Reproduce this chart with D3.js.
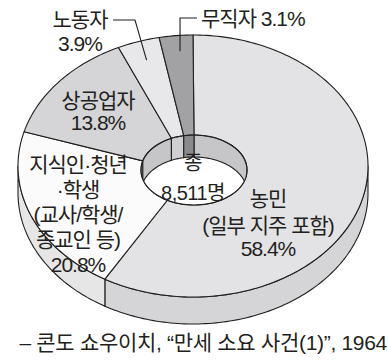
<!DOCTYPE html>
<html>
<head>
<meta charset="utf-8">
<script src="https://cdn.jsdelivr.net/npm/d3@7"></script>
<style>
  html, body { margin: 0; padding: 0; background: #fff; }
  text { font-family: "Liberation Sans", "Noto Sans CJK KR", sans-serif; fill: #231f20; }
</style>
</head>
<body>
<div id="chart"></div>
<script>
// data
const categories = ["농민", "지식인·청년·학생", "상공업자", "노동자", "무직자"]
const shares = [58.4, 20.8, 13.8, 3.9, 3.1]
const labelLines = [
    ["농민", "(일부 지주 포함)", "58.4%"],
    ["지식인·청년", "·학생", "(교사/학생/", "종교인 등)", "20.8%"],
    ["상공업자", "13.8%"],
    ["노동자", "3.9%"],
    ["무직자 3.1%"]
]
const centerLines = ["종", "8,511명"]
const source = "– 콘도 쇼우이치, “만세 소요 사건(1)”, 1964"

// colours per slice: top face, outer wall, inner wall
const topColor = ["#e3e3e5", "#fbfbfb", "#d5d5d7", "#e8e8ea", "#a2a2a4"]
const sideColor = ["#d5d5d7", "#e6e6e6", "#cfcfd1", "#dcdcdc", "#9a9a9c"]
const innerColor = ["#c6c6c8", "#dedede", "#c6c6c8", "#cfcfd1", "#8a8a8c"]

const width = 388, height = 362
const outer = {cx: 193, cy: 166, rx: 175, ry: 131, depth: 27}
const inner = {cx: 194, cy: 170, rx: 53, ry: 35, depth: 22}

const svg = d3.select("#chart")
    .append("svg")
    .attr("width", width)
    .attr("height", height)

const pie = d3.pie().sort(null).value(d => d)
const arcs = pie(shares)

// point on an ellipse for a pie angle (0 = top, clockwise)
function pt(e, a, dy) {
    return [e.cx + e.rx * Math.sin(a), e.cy - e.ry * Math.cos(a) + (dy || 0)]
}
function arcPts(e, a0, a1, dy) {
    const n = Math.max(2, Math.ceil(Math.abs(a1 - a0) / 0.02))
    return d3.range(n + 1).map(i => pt(e, a0 + (a1 - a0) * i / n, dy))
}
const line = d3.line()

function overlap(a0, a1, b0, b1) {
    const s = Math.max(a0, b0), t = Math.min(a1, b1)
    return s < t ? [s, t] : null
}

// outer wall (front half)
const sideG = svg.append("g")
arcs.forEach((d, i) => {
    const o = overlap(d.startAngle, d.endAngle, Math.PI / 2, 3 * Math.PI / 2)
    if (!o) return
    const pts = arcPts(outer, o[0], o[1], 0).concat(arcPts(outer, o[1], o[0], outer.depth))
    sideG.append("path")
        .attr("d", line(pts) + "Z")
        .attr("fill", sideColor[i])
        .attr("stroke", "#1f1f1f")
        .attr("stroke-width", 1.1)
        .attr("stroke-linejoin", "round")
})

// top faces
svg.append("g")
    .selectAll("path")
    .data(arcs)
    .enter()
    .append("path")
    .attr("d", d => line(arcPts(outer, d.startAngle, d.endAngle, 0)
        .concat(arcPts(inner, d.endAngle, d.startAngle, 0))) + "Z")
    .attr("fill", (d, i) => topColor[i])
    .attr("stroke", "#1f1f1f")
    .attr("stroke-width", 1.1)
    .attr("stroke-linejoin", "round")

// hole + inner wall (back half)
svg.append("clipPath").attr("id", "hole")
    .append("ellipse")
    .attr("cx", inner.cx).attr("cy", inner.cy)
    .attr("rx", inner.rx).attr("ry", inner.ry)

const holeG = svg.append("g").attr("clip-path", "url(#hole)")
holeG.append("ellipse")
    .attr("cx", inner.cx).attr("cy", inner.cy)
    .attr("rx", inner.rx).attr("ry", inner.ry)
    .attr("fill", "#fff")

arcs.forEach((d, i) => {
    [[0, Math.PI / 2], [3 * Math.PI / 2, 2 * Math.PI]].forEach(r => {
        const o = overlap(d.startAngle, d.endAngle, r[0], r[1])
        if (!o) return
        const pts = arcPts(inner, o[0], o[1], 0).concat(arcPts(inner, o[1], o[0], inner.depth))
        holeG.append("path")
            .attr("d", line(pts) + "Z")
            .attr("fill", innerColor[i])
            .attr("stroke", "#1f1f1f")
            .attr("stroke-width", 1.1)
    })
})

svg.append("ellipse")
    .attr("cx", inner.cx).attr("cy", inner.cy)
    .attr("rx", inner.rx).attr("ry", inner.ry)
    .attr("fill", "none")
    .attr("stroke", "#1f1f1f")
    .attr("stroke-width", 1.1)

// leader lines for the two thin slices
function midPt(d, f) {
    const a = (d.startAngle + d.endAngle) / 2
    return [outer.cx + outer.rx * f * Math.sin(a), outer.cy - outer.ry * f * Math.cos(a)]
}
const p3 = midPt(arcs[3], 0.85)
const p4 = midPt(arcs[4], 0.88)
svg.append("path")
    .attr("d", line([[113, 20], [135, 20], p3]))
    .attr("fill", "none").attr("stroke", "#1f1f1f").attr("stroke-width", 1.1)
svg.append("path")
    .attr("d", line([[p4[0] + 2, p4[1]], [p4[0] + 2, 18], [197, 18]]))
    .attr("fill", "none").attr("stroke", "#1f1f1f").attr("stroke-width", 1.1)

// labels
const labelPos = [
    {x: 268, y: 206, dy: [0, 27, 50]},
    {x: 78, y: 172, dy: [0, 25, 50, 75, 100]},
    {x: 98, y: 108, dy: [0, 22]},
    {x: 80, y: 27, dy: [0, 24]},
    {x: 201, y: 26, dy: [0], anchor: "start"}
]
labelLines.forEach((lines, i) => {
    const p = labelPos[i]
    const t = svg.append("text")
        .attr("text-anchor", p.anchor || "middle")
        .style("font-size", "21px")
        .style("letter-spacing", "-1px")
    lines.forEach((s, j) => {
        t.append("tspan").attr("x", p.x).attr("y", p.y + p.dy[j]).text(s)
    })
})

const ct = svg.append("text").attr("text-anchor", "middle").style("font-size", "20px")
    .style("letter-spacing", "-0.5px")
centerLines.forEach((s, j) => {
    ct.append("tspan").attr("x", inner.cx - 1).attr("y", 170 + j * 30).text(s)
})

svg.append("text")
    .attr("x", 387)
    .attr("y", 350)
    .attr("text-anchor", "end")
    .style("font-size", "21px")
    .style("letter-spacing", "-0.3px")
    .text(source)
</script>
</body>
</html>
